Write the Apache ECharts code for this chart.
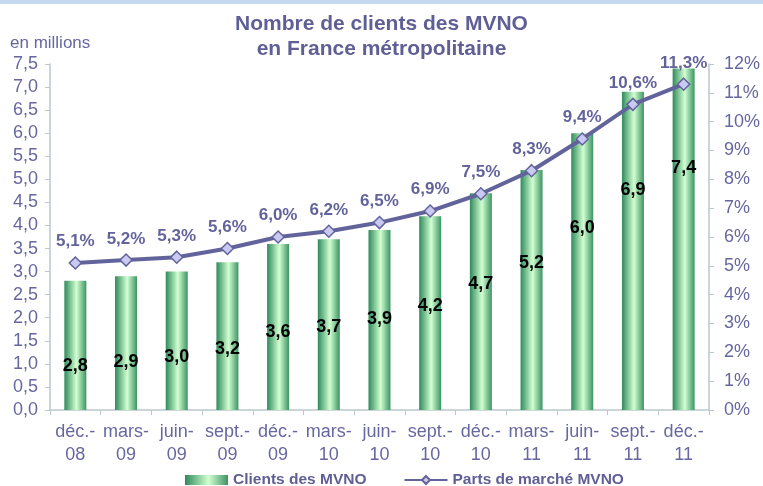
<!DOCTYPE html>
<html><head><meta charset="utf-8">
<script src="https://cdn.jsdelivr.net/npm/echarts@6/dist/echarts.min.js"></script>
<style>html,body{margin:0;padding:0;background:#fff}#c{width:763px;height:486px}</style>
</head><body><div id="c"></div>
<script>
var categories = ["déc.-\n08","mars-\n09","juin-\n09","sept.-\n09","déc.-\n09","mars-\n10","juin-\n10","sept.-\n10","déc.-\n10","mars-\n11","juin-\n11","sept.-\n11","déc.-\n11"];
var clients = [2.8,2.9,3.0,3.2,3.6,3.7,3.9,4.2,4.7,5.2,6.0,6.9,7.4];
var parts = [5.1,5.2,5.3,5.6,6.0,6.2,6.5,6.9,7.5,8.3,9.4,10.6,11.3];
var leftTicks = {min:0, max:7.5, interval:0.5};
var rightTicks = {min:0, max:12, interval:1};

var txt = '#6767a0';
var axisCol = '#b9c9cc';
var font = 'Arial, "Liberation Sans", sans-serif';
var barGrad = new echarts.graphic.LinearGradient(0,0,1,0,[
  {offset:0,color:'#2f8a5a'},{offset:0.55,color:'#d2ffd2'},{offset:1,color:'#3c9463'}]);

var chart = echarts.init(document.getElementById('c'));
chart.setOption({
  animation:false,
  backgroundColor:'#fff',
  graphic:[
    {type:'rect',left:0,top:0,shape:{width:763,height:4},style:{fill:'#c6d9f1'}},
    {type:'text',left:10,top:35,style:{text:'en millions',fill:txt,font:'17px Arial, "Liberation Sans", sans-serif'}}
  ],
  title:{text:'Nombre de clients des MVNO\nen France métropolitaine',left:'center',top:7,
    textStyle:{fontFamily:font,fontSize:21,fontWeight:'bold',color:'#5f5f96',lineHeight:25}},
  legend:{top:467,left:180,itemGap:37,itemWidth:43,itemHeight:10,
    textStyle:{fontFamily:font,fontSize:15.5,fontWeight:'bold',color:'#5f5f96'},
    data:[{name:'Clients des MVNO',icon:'rect'},{name:'Parts de marché MVNO'}]},
  grid:{left:50,right:51,top:64,bottom:76},
  xAxis:{type:'category',data:categories,
    axisLine:{lineStyle:{color:axisCol,width:1.5}},
    axisTick:{show:true,length:5,lineStyle:{color:axisCol}},
    axisLabel:{interval:0,color:txt,fontFamily:font,fontSize:18,lineHeight:23,margin:11}},
  yAxis:[
    {type:'value',
      min:leftTicks.min,max:leftTicks.max,interval:leftTicks.interval,
      axisLine:{show:true,lineStyle:{color:axisCol,width:1.5}},
      axisTick:{show:true,length:5,lineStyle:{color:axisCol}},
      splitLine:{show:false},
      axisLabel:{color:txt,fontFamily:font,fontSize:18,margin:12,
        formatter:function(v){return v.toFixed(1).replace('.',',');}}},
    {type:'value',position:'right',
      min:rightTicks.min,max:rightTicks.max,interval:rightTicks.interval,
      axisLine:{show:true,lineStyle:{color:axisCol,width:1.5}},
      axisTick:{show:true,length:5,lineStyle:{color:axisCol}},
      splitLine:{show:false},
      axisLabel:{color:txt,fontFamily:font,fontSize:18,margin:15,
        formatter:function(v){return v+'%';}}}
  ],
  series:[
    {name:'Clients des MVNO',type:'bar',barWidth:22,yAxisIndex:0,
      itemStyle:{color:barGrad},
      data:clients.map(function(v){
        return {value:v,label:{offset:[0,76.4-19.93*v]}};}),
      label:{show:true,position:'inside',color:'#000',fontFamily:font,fontSize:18,fontWeight:'bold',
        formatter:function(p){return p.value.toFixed(1).replace('.',',');}}},
    {name:'Parts de marché MVNO',type:'line',yAxisIndex:1,data:parts,
      symbol:'diamond',symbolSize:12,
      lineStyle:{color:'#63639c',width:4},
      itemStyle:{color:'#c9c9f2',borderColor:'#63639c',borderWidth:1.5},
      label:{show:true,position:'top',distance:6,color:'#63639c',fontFamily:font,fontSize:17,fontWeight:'bold',
        formatter:function(p){return p.value.toFixed(1).replace('.',',')+'%';}}}
  ]
});
</script></body></html>
